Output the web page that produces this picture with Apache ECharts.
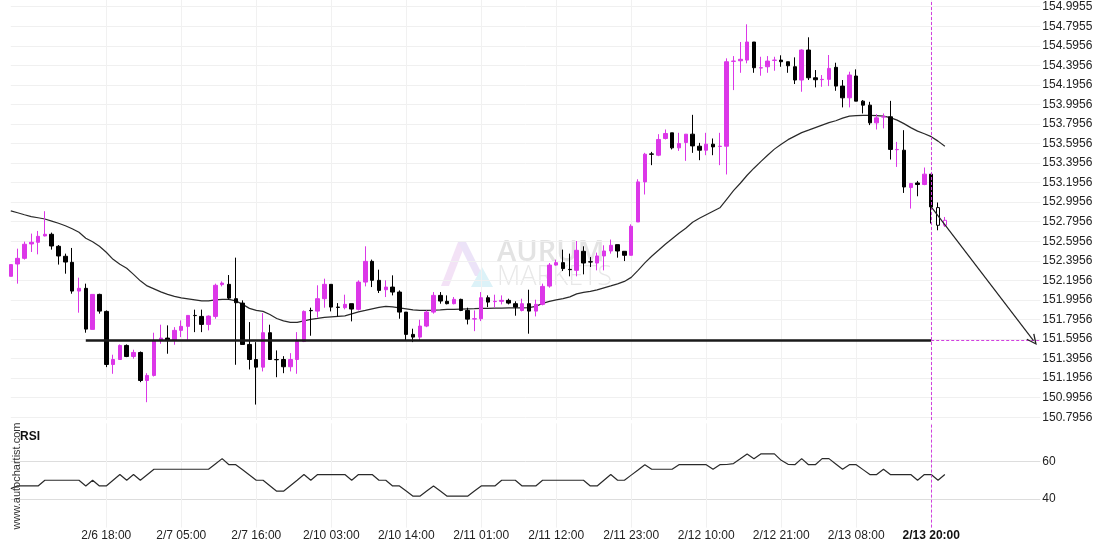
<!DOCTYPE html>
<html>
<head>
<meta charset="utf-8">
<script src="https://cdn.jsdelivr.net/npm/echarts@6.0.0/dist/echarts.min.js"></script>
<style>
html,body{margin:0;padding:0;background:#fff;}
#chart{width:1110px;height:550px;}
</style>
</head>
<body>
<div id="chart"></div>
<script>
// ---------- DATA ----------
// candles: [open, close, low, high] (hourly)
const candles = [
[152.237,152.357,152.237,152.357],[152.363,152.421,152.162,152.520],[152.421,152.565,152.408,152.592],[152.568,152.585,152.486,152.674],
[152.585,152.646,152.462,152.701],[152.650,152.667,152.645,152.903],[152.667,152.547,152.510,152.684],[152.544,152.445,152.357,152.557],
[152.442,152.383,152.264,152.469],[152.380,152.086,152.059,152.527],[152.086,152.114,151.865,152.223],[152.114,151.697,151.660,152.162],
[151.694,152.052,151.694,152.052],[152.052,151.881,151.855,152.059],[151.878,151.335,151.308,151.888],[151.335,151.386,151.240,151.435],
[151.386,151.530,151.386,151.540],[151.530,151.417,151.410,151.540],[151.417,151.458,151.394,151.486],[151.458,151.171,151.154,151.468],
[151.171,151.223,150.949,151.246],[151.223,151.581,151.212,151.660],[151.581,151.605,151.547,151.742],[151.605,151.581,151.445,151.735],
[151.581,151.684,151.537,151.717],[151.684,151.725,151.615,151.786],[151.725,151.837,151.588,151.837],[151.837,151.835,151.666,151.896],
[151.827,151.745,151.666,151.896],[151.745,151.830,151.684,151.837],[151.827,152.145,151.803,152.162],[152.152,152.168,152.134,152.185],
[152.155,152.014,151.998,152.250],[152.008,151.967,151.332,152.428],[151.963,151.540,151.540,151.991],[151.540,151.386,151.284,151.769],
[151.386,151.308,150.925,151.564],[151.308,151.660,151.264,151.861],[151.660,151.386,151.386,151.742],[151.386,151.383,151.205,151.479],
[151.386,151.312,151.246,151.420],[151.312,151.386,151.264,151.451],[151.386,151.571,151.240,151.666],[151.571,151.878,151.564,151.888],
[151.888,151.885,151.629,151.916],[151.881,152.008,151.814,152.145],[152.008,152.155,151.916,152.213],[152.155,151.922,151.878,152.155],
[151.922,151.919,151.827,151.963],[151.916,151.950,151.899,152.049],[151.957,151.902,151.776,151.957],[151.899,152.178,151.888,152.196],
[152.178,152.390,152.134,152.544],[152.390,152.196,152.127,152.408],[152.196,152.093,152.066,152.305],[152.100,152.127,152.025,152.196],
[152.127,152.076,152.042,152.247],[152.076,151.871,151.803,152.093],[151.871,151.643,151.581,151.871],[151.643,151.615,151.564,151.701],
[151.615,151.728,151.581,151.793],[151.728,151.871,151.717,151.888],[151.871,152.042,151.855,152.076],[152.042,151.984,151.957,152.076],
[151.981,151.957,151.950,152.042],[151.957,152.001,151.950,152.025],[152.001,151.888,151.881,152.008],[151.888,151.799,151.745,151.916],
[151.800,151.803,151.676,151.888],[151.803,152.018,151.779,152.076],[152.018,151.973,151.922,152.042],[151.978,151.981,151.916,152.049],
[151.981,151.991,151.950,152.042],[151.991,151.963,151.950,152.008],[151.957,151.922,151.834,151.981],[151.888,151.957,151.878,152.008],
[151.957,151.881,151.650,152.100],[151.881,151.950,151.827,151.998],[151.950,152.134,151.940,152.162],[152.137,152.352,152.121,152.373],
[152.352,152.377,152.346,152.408],[152.377,152.316,152.291,152.510],[152.308,152.305,152.237,152.469],[152.298,152.503,152.237,152.598],
[152.493,152.373,152.257,152.544],[152.386,152.383,152.332,152.434],[152.373,152.445,152.298,152.479],[152.445,152.496,152.298,152.554],
[152.496,152.554,152.469,152.613],[152.561,152.496,152.428,152.561],[152.493,152.452,152.393,152.493],[152.452,152.749,152.452,152.769],
[152.793,153.203,152.793,153.230],[153.203,153.486,153.074,153.500],[153.489,153.486,153.374,153.510],[153.476,153.637,153.466,153.691],
[153.647,153.698,153.637,153.739],[153.705,153.551,153.535,153.705],[153.551,153.596,153.520,153.705],[153.606,153.691,153.418,153.691],
[153.691,153.571,153.500,153.889],[153.568,153.527,153.425,153.602],[153.527,153.589,153.476,153.705],[153.589,153.561,153.476,153.647],
[153.565,153.568,153.374,153.705],[153.568,154.432,153.279,154.467],[154.436,154.439,154.142,154.490],[154.442,154.457,154.319,154.634],
[154.449,154.634,154.416,154.815],[154.634,154.371,154.319,154.634],[154.368,154.371,154.289,154.483],[154.381,154.439,154.319,154.490],
[154.446,154.449,154.340,154.483],[154.449,154.432,154.381,154.498],[154.432,154.391,154.319,154.432],[154.381,154.245,154.204,154.477],
[154.245,154.552,154.125,154.559],[154.552,154.268,154.245,154.682],[154.268,154.248,154.170,154.347],[154.249,154.252,154.176,154.296],
[154.252,154.364,154.183,154.501],[154.375,154.183,154.135,154.422],[154.183,154.063,153.965,154.245],[154.063,154.296,153.965,154.330],
[154.286,154.029,154.029,154.354],[154.029,153.988,153.903,154.040],[153.988,153.807,153.784,154.022],[153.807,153.858,153.739,153.896],
[153.866,153.869,153.750,153.903],[153.869,153.535,153.432,154.032],[153.532,153.535,153.356,153.612],[153.527,153.151,153.090,153.732],
[153.145,153.186,152.930,153.192],[153.192,153.176,153.056,153.213],[153.176,153.282,153.169,153.350],[153.282,152.947,152.777,153.282],
[152.940,152.759,152.708,152.992],[152.759,152.810,152.742,152.844]
];
// moving average line values
const maValues = [
152.906,152.887,152.867,152.848,152.836,152.823,152.802,152.780,152.754,152.723,
152.687,152.626,152.590,152.544,152.483,152.411,152.360,152.319,152.257,152.191,
152.139,152.109,152.078,152.052,152.032,152.016,152.006,151.996,151.986,151.986,
151.996,152.001,152.001,151.986,151.950,151.909,151.888,151.878,151.847,151.806,
151.781,151.765,151.765,151.781,151.796,151.806,151.817,151.822,151.827,151.832,
151.852,151.873,151.888,151.904,151.919,151.929,151.924,151.914,151.904,151.894,
151.888,151.888,151.890,151.894,151.899,151.899,151.902,151.904,151.906,151.909,
151.909,151.911,151.912,151.914,151.914,151.914,151.916,151.929,151.960,151.981,
151.996,152.008,152.027,152.057,152.073,152.083,152.098,152.119,152.139,152.160,
152.185,152.226,152.298,152.375,152.442,152.503,152.565,152.621,152.677,152.728,
152.790,152.831,152.867,152.903,152.938,153.025,153.113,153.189,153.271,153.343,
153.410,153.476,153.538,153.589,153.635,153.671,153.707,153.732,153.758,153.784,
153.809,153.828,153.855,153.876,153.881,153.883,153.883,153.881,153.876,153.860,
153.835,153.799,153.758,153.722,153.696,153.666,153.620,153.568
];
// RSI values
const rsiValues = [
45.6,47.0,47.0,47.0,47.0,50.0,50.0,50.0,50.0,50.0,
50.0,47.0,50.0,47.0,47.0,50.0,53.0,50.0,53.0,50.0,
52.9,55.8,55.8,55.8,55.8,55.8,55.8,55.8,55.8,55.8,
58.6,61.4,58.2,58.2,55.5,52.8,50.0,50.0,47.1,44.2,
44.2,47.1,50.0,53.0,50.0,53.0,53.0,53.0,53.0,53.0,
50.0,53.0,53.0,53.0,50.0,50.0,47.0,47.0,44.3,41.6,
41.6,44.3,47.0,44.3,41.6,41.6,41.6,41.6,44.3,47.0,
47.0,47.0,50.0,50.0,50.0,47.0,47.0,47.0,50.0,50.0,
50.0,50.0,50.0,50.0,50.0,47.0,47.0,50.0,53.0,50.0,
50.0,52.7,55.4,58.2,55.8,55.8,55.8,55.8,58.2,58.2,
58.2,58.2,58.2,55.8,58.2,58.3,58.8,61.3,63.9,61.4,
63.9,63.9,63.9,60.5,58.4,58.2,61.4,58.2,58.2,61.4,
61.4,58.6,55.8,58.2,58.2,55.6,53.0,53.0,55.8,53.0,
53.0,53.0,53.0,50.0,53.0,53.0,50.0,53.0
];
// x-axis tick labels and their bar indices
const xTickIdx    = [14, 25, 36, 47, 58, 69, 80, 91, 102, 113, 124, 135];
const xTickLabels = ['2/6 18:00','2/7 05:00','2/7 16:00','2/10 03:00','2/10 14:00','2/11 01:00','2/11 12:00','2/11 23:00','2/12 10:00','2/12 21:00','2/13 08:00','2/13 20:00'];
// price tick labels
const priceTicks = ['150.7956','150.9956','151.1956','151.3956','151.5956','151.7956','151.9956','152.1956','152.3956','152.5956','152.7956','152.9956','153.1956','153.3956','153.5956','153.7956','153.9956','154.1956','154.3956','154.5956','154.7955','154.9955'];
const rsiTicks = [40, 60];
// pattern annotation values
const levelPrice = 151.578;   // support level
const levelStartIdx = 11;
const markerIdx = 135;        // pattern end (2/13 20:00)
const hollowFromIdx = 136;    // bars after the pattern
const arrowEndIdx = 150;      // forecast target bar
const totalSlots = 152;       // bars + forecast area

// ---------- CHART ----------
const PINK = '#dc37e8';
const BLACK = '#000000';
const MAGENTA_DASH = '#d13fdf';
const FONT = '"Liberation Sans", Arial, sans-serif';

const tickSet = new Set(xTickIdx);
const categories = Array.from({length: totalSlots}, (_, i) => {
  const k = xTickIdx.indexOf(i);
  return k >= 0 ? xTickLabels[k] : ('#' + i);
});
const priceTickVals = priceTicks.map(parseFloat);

const candleData = candles.map((c, i) => {
  if (i >= hollowFromIdx) {
    const up = c[1] >= c[0];
    const col = up ? PINK : BLACK;
    return { value: c, itemStyle: { color: '#ffffff', color0: '#ffffff', borderColor: col, borderColor0: col } };
  }
  return c;
});

const gridLeft = 10.8, gridWidth = 1029.5;
const chart = echarts.init(document.getElementById('chart'), null, {renderer: 'canvas'});

const dashStyle = {color: MAGENTA_DASH, width: 1, type: [3, 2], opacity: 1};

const option = {
  animation: false,
  backgroundColor: '#ffffff',
  grid: [
    {left: gridLeft, top: 0, width: gridWidth, height: 420},
    {left: gridLeft, top: 423.4, width: gridWidth, height: 104.2}
  ],
  xAxis: [
    {
      gridIndex: 0, type: 'category', data: categories, boundaryGap: false,
      axisLine: {show: false}, axisTick: {show: false}, axisLabel: {show: false},
      splitLine: {show: true, interval: (i) => tickSet.has(i), lineStyle: {color: '#f1f1f1', width: 1}}
    },
    {
      gridIndex: 1, type: 'category', data: categories, boundaryGap: false,
      axisLine: {show: false}, axisTick: {show: false},
      axisLabel: {
        show: true, interval: (i) => tickSet.has(i), margin: 2,
        color: '#222', fontSize: 12, fontFamily: FONT,
        formatter: (v, i) => (i === markerIdx ? '{b|' + v + '}' : v),
        rich: {b: {fontWeight: 'bold', fontSize: 12, fontFamily: FONT, color: '#111'}}
      },
      splitLine: {show: true, interval: (i) => tickSet.has(i), lineStyle: {color: '#f1f1f1', width: 1}}
    }
  ],
  yAxis: [
    {
      gridIndex: 0, type: 'value', position: 'right',
      min: 150.7671, max: 155.0637,
      axisLine: {show: false},
      axisTick: {show: false, customValues: priceTickVals},
      axisLabel: {
        customValues: priceTickVals, margin: 2, color: '#222', fontSize: 12, fontFamily: FONT,
        formatter: (v) => {
          let best = 0, bd = Infinity;
          priceTickVals.forEach((t, k) => { const d = Math.abs(t - v); if (d < bd) { bd = d; best = k; } });
          return priceTicks[best];
        }
      },
      splitLine: {show: true, lineStyle: {color: '#f0f0f0', width: 1}}
    },
    {
      gridIndex: 1, type: 'value', position: 'right', min: 25, max: 80,
      axisLine: {show: false},
      axisTick: {show: false, customValues: rsiTicks},
      axisLabel: {customValues: rsiTicks, margin: 2, color: '#222', fontSize: 12, fontFamily: FONT},
      splitLine: {show: true, lineStyle: {color: '#dddddd', width: 1}}
    }
  ],
  series: [
    {
      name: 'price', type: 'candlestick', xAxisIndex: 0, yAxisIndex: 0,
      data: candleData, barWidth: 4, z: 3,
      itemStyle: {color: PINK, color0: BLACK, borderColor: PINK, borderColor0: BLACK, borderWidth: 1},
      markLine: {
        silent: true, animation: false, symbol: ['none', 'none'], label: {show: false},
        emphasis: {disabled: true},
        lineStyle: {color: '#1a1a1a', width: 2.5, type: 'solid', opacity: 1},
        data: [
          [{coord: [levelStartIdx, levelPrice]}, {coord: [markerIdx, levelPrice]}]
        ]
      }
    },
    {
      name: 'MA', type: 'line', xAxisIndex: 0, yAxisIndex: 0, data: maValues,
      showSymbol: false, symbol: 'none', z: 2,
      lineStyle: {color: '#2a2a2a', width: 1.2},
      markLine: {
        silent: true, animation: false, symbol: ['none', 'none'], label: {show: false},
        emphasis: {disabled: true},
        lineStyle: dashStyle,
        data: [
          [{coord: [markerIdx, levelPrice]}, {coord: [totalSlots - 1, levelPrice]}],
          {xAxis: markerIdx}
        ]
      }
    },
    {
      name: 'forecast', type: 'line', xAxisIndex: 0, yAxisIndex: 0, data: [],
      markLine: {
        silent: true, animation: false, label: {show: false},
        emphasis: {disabled: true},
        symbol: ['none', 'path://M5,0 L10,11 L8.8,11.6 L5,3.2 L1.2,11.6 L0,11 Z'],
        symbolSize: [10, 11],
        lineStyle: {color: '#222', width: 1.2, type: 'solid', opacity: 1},
        data: [
          [{coord: [markerIdx, candles[markerIdx][1]]}, {coord: [arrowEndIdx, levelPrice]}]
        ]
      }
    },
    {
      name: 'RSI', type: 'line', xAxisIndex: 1, yAxisIndex: 1, data: rsiValues,
      showSymbol: false, symbol: 'none',
      lineStyle: {color: '#2a2a2a', width: 1.2},
      markLine: {
        silent: true, animation: false, symbol: ['none', 'none'], label: {show: false},
        emphasis: {disabled: true},
        lineStyle: dashStyle,
        data: [{xAxis: markerIdx}]
      }
    }
  ],
  graphic: [
    // watermark logo
    {type: 'group', z: 1, silent: true, children: [
      {type: 'polygon', shape: {points: [[441,286],[449,286],[466,242],[458,242]]}, style: {fill: '#f3e2f6'}},
      {type: 'polygon', shape: {points: [[458,242],[466,242],[483,276],[475,276]]}, style: {fill: '#ece3f8'}},
      {type: 'polygon', shape: {points: [[471,287],[482,267],[493,287]]}, style: {fill: '#dcf2f8'}},
      {type: 'text', x: 497, y: 253, style: {text: 'AURUM', font: '600 29px "Open Sans", sans-serif', fill: '#e3e3e3', verticalAlign: 'middle'}},
      {type: 'text', x: 497, y: 277, style: {text: 'MARKETS', font: '300 27px "Open Sans", sans-serif', fill: '#e8e8e8', verticalAlign: 'middle'}}
    ]},
    {type: 'text', left: 20, top: 431, z: 10, style: {text: 'RSI', font: 'bold 12px ' + FONT, fill: '#111'}},
    {type: 'text', x: 17, y: 476, rotation: Math.PI / 2, z: 10,
      style: {text: 'www.autochartist.com', font: '11px ' + FONT, fill: '#333', align: 'center', verticalAlign: 'middle'}}
  ]
};
chart.setOption(option);
</script>
</body>
</html>
